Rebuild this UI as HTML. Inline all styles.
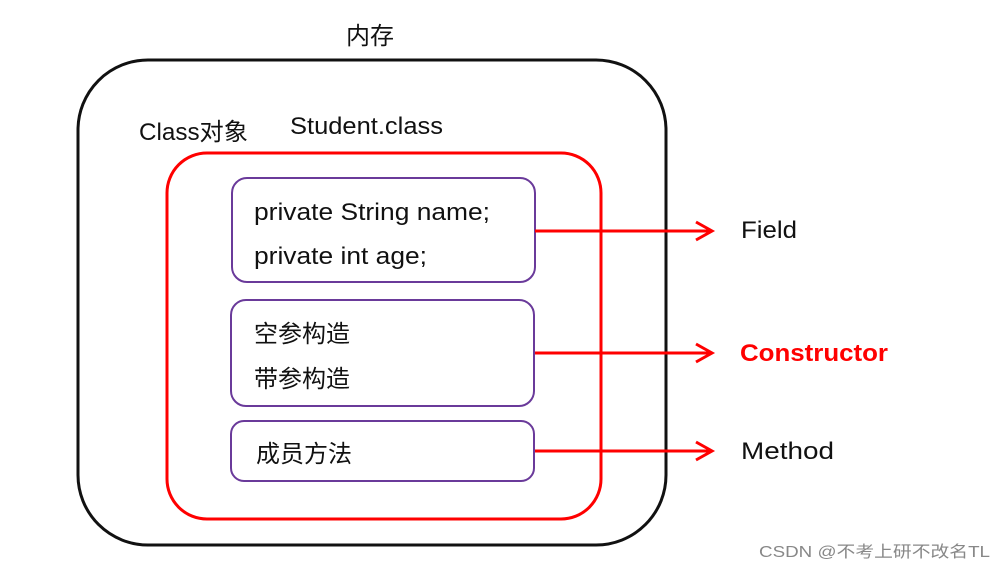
<!DOCTYPE html>
<html><head><meta charset="utf-8"><style>
body{margin:0;background:#fff;width:1006px;height:570px;overflow:hidden}
text{font-family:"Liberation Sans","Noto Sans CJK SC",sans-serif}
</style></head><body>
<svg width="1006" height="570" xmlns="http://www.w3.org/2000/svg">
<rect x="78" y="60" width="588" height="485" rx="70" fill="none" stroke="#111" stroke-width="3"/>
<rect x="167" y="153" width="434" height="366" rx="40" fill="none" stroke="#f00" stroke-width="3"/>
<rect x="232" y="178" width="303" height="104" rx="15" fill="none" stroke="#6a3a9a" stroke-width="2"/>
<rect x="231" y="300" width="303" height="106" rx="15" fill="none" stroke="#6a3a9a" stroke-width="2"/>
<rect x="231" y="421" width="303" height="60" rx="13" fill="none" stroke="#6a3a9a" stroke-width="2"/>
<g stroke="#f00" stroke-width="3" fill="none">
<line x1="535" y1="231" x2="711" y2="231"/><polyline points="696,222 712,231 696,240"/>
<line x1="535" y1="353" x2="711" y2="353"/><polyline points="696,344 712,353 696,362"/>
<line x1="535" y1="451" x2="711" y2="451"/><polyline points="696,442 712,451 696,460"/>
</g>
<g font-size="24" fill="#111" lengthAdjust="spacingAndGlyphs">
<text x="346" y="44">内存</text>
<text x="139" y="140" textLength="109" lengthAdjust="spacingAndGlyphs">Class对象</text>
<text x="290" y="134" textLength="153" lengthAdjust="spacingAndGlyphs">Student.class</text>
<text x="254" y="220" textLength="236" lengthAdjust="spacingAndGlyphs">private String name;</text>
<text x="254" y="264" textLength="173" lengthAdjust="spacingAndGlyphs">private int age;</text>
<text x="254" y="342">空参构造</text>
<text x="254" y="387">带参构造</text>
<text x="256" y="462">成员方法</text>
<text x="741" y="238" textLength="56" lengthAdjust="spacingAndGlyphs">Field</text>
<text x="741" y="459" textLength="93" lengthAdjust="spacingAndGlyphs">Method</text>
</g>
<text x="740" y="361" font-size="24" font-weight="bold" fill="#f00" textLength="148" lengthAdjust="spacingAndGlyphs">Constructor</text>
<text x="759" y="557" font-size="16" fill="#888" textLength="231" lengthAdjust="spacingAndGlyphs">CSDN @不考上研不改名TL</text>
</svg>
</body></html>
